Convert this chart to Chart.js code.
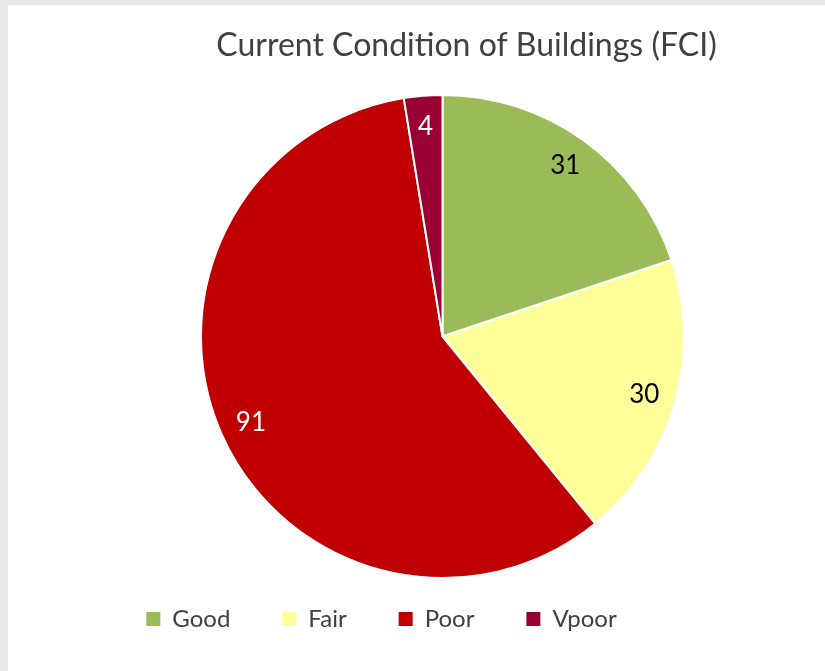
<!DOCTYPE html>
<html>
<head>
<meta charset="utf-8">
<script src="https://cdn.jsdelivr.net/npm/chart.js@4"></script>
<style>
  html, body { margin: 0; padding: 0; background: #e8e9e8; overflow: hidden; }
  #wrap { position: absolute; left: 8px; top: 5px; width: 817px; height: 666px; background: #ffffff; }
  canvas { display: block; }
</style>
</head>
<body>
<div id="wrap"><canvas id="c" width="817" height="666"></canvas></div>
<script>
const titleText = 'Current Condition of Buildings (FCI)';
const categories = ['Good', 'Fair', 'Poor', 'Vpoor'];
const buildingCounts = [31, 30, 91, 4];
const sliceColors = ['#9bbb59', '#ffff99', '#c00000', '#990033'];
const labelColors = ['#000000', '#000000', '#ffffff', '#ffffff'];

const dataLabelPlugin = {
  id: 'dataLabels',
  afterDatasetsDraw(chart) {
    const ctx = chart.ctx;
    const meta = chart.getDatasetMeta(0);
    const values = chart.data.datasets[0].data;
    ctx.save();
    ctx.font = '26px Lato';
    ctx.textAlign = 'center';
    ctx.textBaseline = 'middle';
    meta.data.forEach((arc, i) => {
      const p = arc.getProps(['x', 'y', 'startAngle', 'endAngle', 'outerRadius'], true);
      const mid = (p.startAngle + p.endAngle) / 2;
      const r = p.outerRadius * 0.87;
      ctx.fillStyle = labelColors[i];
      ctx.fillText(String(values[i]), p.x + Math.cos(mid) * r, p.y + Math.sin(mid) * r);
    });
    ctx.restore();
  }
};

const shiftPlugin = {
  id: 'shiftBoxes',
  afterLayout(chart) {
    const t = chart.titleBlock, l = chart.legend;
    if (t) { t.left += 24; t.right += 24; }
    if (l) { l.left -= 61; l.right -= 61; l.top -= 24; l.bottom -= 24; }
  }
};

const defaultGen = Chart.overrides.pie.plugins.legend.labels.generateLabels;

new Chart(document.getElementById('c'), {
  type: 'pie',
  data: {
    labels: categories,
    datasets: [{
      data: buildingCounts,
      backgroundColor: sliceColors,
      borderColor: '#ffffff',
      borderWidth: 2
    }]
  },
  options: {
    responsive: false,
    animation: false,
    layout: { padding: { top: 0, left: 52, right: 0, bottom: 6 } },
    plugins: {
      tooltip: { enabled: false },
      title: {
        display: true,
        text: titleText,
        color: '#404040',
        font: { family: 'Lato', size: 32, weight: 'normal', lineHeight: 1.2 },
        padding: { top: 21, bottom: 29.6 }
      },
      legend: {
        position: 'bottom',
        labels: {
          color: '#404040',
          font: { family: 'Lato', size: 24 },
          boxWidth: 14,
          boxHeight: 14,
          padding: 52,
          generateLabels(chart) {
            return defaultGen(chart).map(it => Object.assign(it, { lineWidth: 0 }));
          }
        }
      }
    }
  },
  plugins: [dataLabelPlugin, shiftPlugin]
});
</script>
</body>
</html>
